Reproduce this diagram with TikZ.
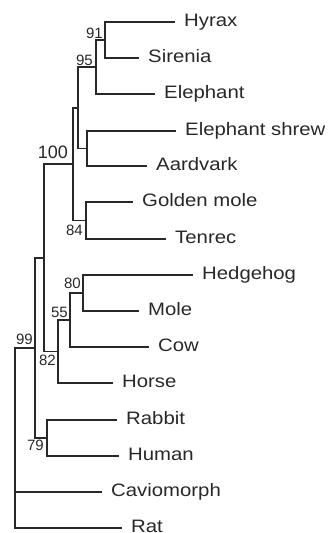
\documentclass[tikz,border=0pt]{standalone}
\usepackage{fontspec}
\setmainfont{Liberation Sans}
\newfontfamily\leaffont[FakeStretch=1.13]{Liberation Sans}
\definecolor{ink}{RGB}{40,40,40}
\tikzset{
  edge/.style={draw=ink, line width=1.1pt},
  leaf/.style={anchor=west, inner xsep=9pt, inner ysep=0pt, text height=12.9pt, text depth=3pt, text=ink, font=\leaffont\fontsize{18}{18}\selectfont},
  boot/.style={inner sep=0pt, text=ink, font=\fontsize{15}{15}\selectfont},
  bigboot/.style={inner sep=0pt, text=ink, font=\fontsize{18}{18}\selectfont}
}
\begin{document}
\begin{tikzpicture}[x=1pt,y=-1pt]
\useasboundingbox (0,0) rectangle (332,533);
% leaves
\node[leaf] (hyrax) at (175,22) {Hyrax};
\node[leaf] (sirenia) at (139,58) {Sirenia};
\node[leaf] (elephant) at (155,94) {Elephant};
\node[leaf] (eshrew) at (176,131) {Elephant shrew};
\node[leaf] (aardvark) at (147,166) {Aardvark};
\node[leaf] (gmole) at (133,202) {Golden mole};
\node[leaf] (tenrec) at (166,239) {Tenrec};
\node[leaf] (hedgehog) at (193,275) {Hedgehog};
\node[leaf] (mole) at (139,311) {Mole};
\node[leaf] (cow) at (149,347) {Cow};
\node[leaf] (horse) at (113,383) {Horse};
\node[leaf] (rabbit) at (117,420) {Rabbit};
\node[leaf] (human) at (119,456) {Human};
\node[leaf] (cavio) at (102,492) {Caviomorph};
\node[leaf] (rat) at (122,528) {Rat};
% internal nodes
\coordinate (n91) at (105,40);
\coordinate (n95) at (96,67);
\coordinate (nes) at (87,148.5);
\coordinate (na) at (78,108);
\coordinate (n84) at (86,220.5);
\coordinate (n100) at (73,164);
\coordinate (n80) at (83,293);
\coordinate (n55) at (70,320);
\coordinate (n82) at (58,351.5);
\coordinate (nb) at (44,258);
\coordinate (n79) at (47,438);
\coordinate (n99) at (35,348);
\coordinate (root) at (15,348);
% edges
\draw[edge] (hyrax.west) -| (n91) |- (sirenia.west);
\draw[edge] (n91) -| (n95) |- (elephant.west);
\draw[edge] (eshrew.west) -| (nes) |- (aardvark.west);
\draw[edge] (n95) -| (na) |- (nes);
\draw[edge] (gmole.west) -| (n84) |- (tenrec.west);
\draw[edge] (na) -| (n100) |- (n84);
\draw[edge] (hedgehog.west) -| (n80) |- (mole.west);
\draw[edge] (n80) -| (n55) |- (cow.west);
\draw[edge] (n55) -| (n82) |- (horse.west);
\draw[edge] (n100) -| (nb) |- (n82);
\draw[edge] (rabbit.west) -| (n79) |- (human.west);
\draw[edge] (nb) -| (n99) |- (n79);
\draw[edge] (n99) -- (root) |- (rat.west);
\draw[edge] (root |- cavio.west) -- (cavio.west);
% bootstrap labels
\node[boot, anchor=south east] (l91) at (103,38.5) {91};
\node[boot, anchor=south east] (l95) at (93,66) {95};
\node[bigboot, anchor=south east] (l100) at (68,159) {100};
\node[boot, anchor=north east] (l84) at (83,225) {84};
\node[boot, anchor=south east] (l80) at (81,289) {80};
\node[boot, anchor=south east] (l55) at (68,318) {55};
\node[boot, anchor=south east] (l99) at (33,345) {99};
\node[boot, anchor=north east] (l82) at (56,355) {82};
\node[boot, anchor=north east] (l79) at (44,440) {79};
\end{tikzpicture}
\end{document}
